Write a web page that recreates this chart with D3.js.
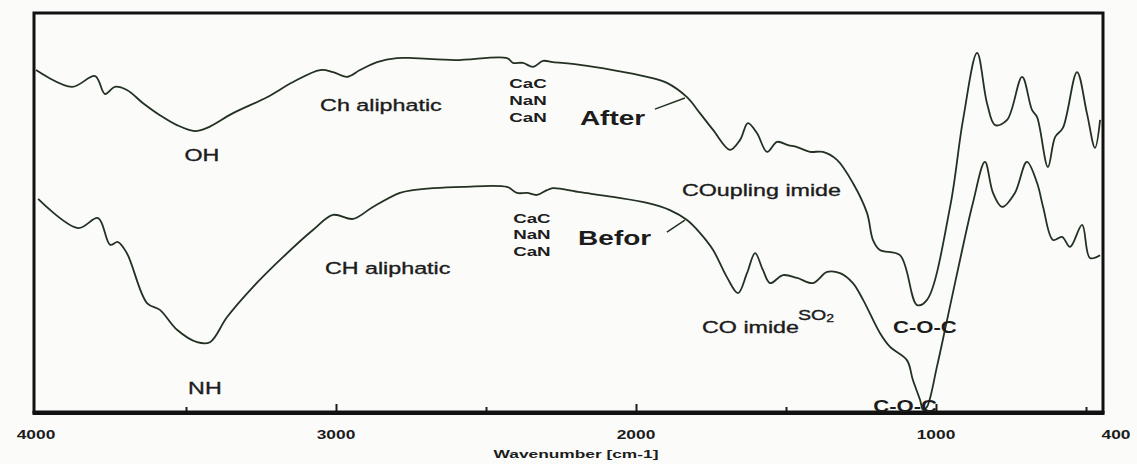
<!DOCTYPE html>
<html>
<head>
<meta charset="utf-8">
<script src="https://cdn.jsdelivr.net/npm/d3@7"></script>
<style>
  html, body { margin: 0; padding: 0; background: #fbfbfa; }
  svg { display: block; font-family: "Liberation Sans", Arial, sans-serif; }
</style>
</head>
<body>
<svg id="chart" width="1137" height="464"></svg>
<script>
// FTIR spectra of the polymer before and after coupling (transmittance, %)
const afterWavenumber = [4000, 3880, 3803, 3770, 3737, 3697, 3643, 3587, 3530, 3470, 3430, 3343, 3230, 3143, 3053, 3010, 2963, 2920, 2863, 2797, 2743, 2603, 2430, 2410, 2377, 2343, 2310, 2277, 2187, 2077, 1963, 1897, 1830, 1787, 1743, 1687, 1653, 1627, 1597, 1563, 1530, 1493, 1463, 1420, 1377, 1330, 1277, 1230, 1210, 1187, 1120, 1063, 1030, 953, 910, 863, 830, 803, 763, 713, 680, 663, 627, 603, 577, 530, 497, 470, 453];
const afterTransmittance = [85.7, 81.5, 84.2, 79.7, 81.5, 80.7, 77.4, 74.4, 71.9, 70.4, 71.2, 74.9, 78.9, 82.7, 85.7, 85.2, 84.0, 85.7, 87.7, 88.7, 88.7, 88.2, 88.7, 87.5, 87.5, 86.5, 88.0, 87.7, 87.0, 85.7, 84.0, 82.5, 78.9, 74.9, 70.7, 65.7, 68.2, 72.4, 69.9, 65.2, 67.7, 66.9, 66.4, 65.2, 65.2, 63.2, 57.4, 49.9, 43.1, 40.6, 39.3, 26.8, 28.1, 51.4, 73.2, 90.0, 77.4, 71.9, 73.2, 84.0, 75.7, 73.9, 61.4, 68.9, 71.2, 85.2, 74.9, 66.2, 73.2];

const beforeWavenumber = [3993, 3860, 3793, 3753, 3727, 3697, 3630, 3587, 3530, 3463, 3420, 3363, 3277, 3177, 3077, 3010, 2943, 2877, 2787, 2743, 2577, 2430, 2397, 2363, 2330, 2297, 2277, 2187, 2077, 1963, 1887, 1830, 1787, 1743, 1697, 1660, 1630, 1603, 1577, 1553, 1510, 1463, 1410, 1363, 1320, 1277, 1243, 1187, 1153, 1097, 1077, 1053, 1043, 1030, 997, 963, 920, 877, 837, 810, 780, 737, 697, 663, 643, 610, 580, 553, 513, 487, 453];
const beforeTransmittance = [53.4, 46.1, 48.6, 41.9, 42.6, 39.8, 27.3, 25.6, 20.6, 17.5, 17.5, 23.8, 31.3, 38.8, 45.6, 49.4, 48.4, 51.4, 54.9, 55.6, 56.4, 56.4, 54.9, 54.9, 54.4, 55.6, 56.1, 55.1, 53.9, 52.4, 50.6, 48.1, 44.9, 40.6, 33.8, 29.8, 34.8, 39.8, 35.6, 32.3, 34.3, 33.6, 32.3, 35.1, 34.8, 32.3, 28.1, 19.8, 16.3, 13.0, 8.0, 3.0, 0.5, 1.3, 11.3, 23.1, 38.1, 52.4, 62.7, 54.9, 51.4, 54.9, 62.7, 57.4, 51.4, 43.1, 43.9, 41.4, 46.9, 38.6, 39.3];

const labelledTicks = [4000, 3000, 2000, 1000, 400];
const majorTicks = [3000, 2000, 1000];
const minorTicks = [3500, 2500, 1500, 500];
const axisTitle = "Wavenumber [cm-1]";

const svg = d3.select("#chart");
const frame = { left: 34, right: 1103, top: 13, bottom: 412 };

const x = d3.scaleLinear().domain([4000, 400]).range([36, 1116]);
const y = d3.scaleLinear().domain([0, 100]).range([frame.bottom, frame.top]);

const ink = "#1c1c1c";
const lineInk = "#223122";

// plot area and clip
svg.append("defs").append("clipPath").attr("id", "plotClip")
  .append("rect")
  .attr("x", frame.left).attr("y", frame.top)
  .attr("width", frame.right - frame.left).attr("height", frame.bottom - frame.top);

// spectra
const line = d3.line()
  .x(d => x(d[0]))
  .y(d => y(d[1]))
  .curve(d3.curveCatmullRom.alpha(0.5));

const spectra = [
  d3.zip(afterWavenumber, afterTransmittance),
  d3.zip(beforeWavenumber, beforeTransmittance)
];

svg.append("g").attr("clip-path", "url(#plotClip)")
  .selectAll("path").data(spectra).join("path")
  .attr("d", line)
  .attr("fill", "none")
  .attr("stroke", lineInk)
  .attr("stroke-width", 1.8)
  .attr("stroke-linejoin", "round");

// ticks pointing into the plot
const tickG = svg.append("g").attr("transform", `translate(0,${frame.bottom})`);
tickG.append("g").call(d3.axisBottom(x).tickValues(majorTicks).tickSize(-8).tickFormat(""));
tickG.append("g").call(d3.axisBottom(x).tickValues(minorTicks).tickSize(-5).tickFormat(""));
tickG.selectAll(".domain").remove();
tickG.selectAll(".tick line").attr("stroke", ink).attr("stroke-width", 2);

// frame
svg.append("rect")
  .attr("x", frame.left).attr("y", frame.top)
  .attr("width", frame.right - frame.left).attr("height", frame.bottom - frame.top)
  .attr("fill", "none").attr("stroke", "#111").attr("stroke-width", 3);
svg.append("line")
  .attr("x1", frame.left - 1.5).attr("x2", frame.right + 1.5)
  .attr("y1", frame.bottom + 1).attr("y2", frame.bottom + 1)
  .attr("stroke", "#111").attr("stroke-width", 4);

// stretched text helper
function stretchedText(g, text, px, py, o = {}) {
  const t = g.append("text")
    .attr("transform", `translate(${px},${py}) scale(${o.sx || 1.37},1)`)
    .attr("text-anchor", o.anchor || "start")
    .attr("dominant-baseline", "central")
    .style("font-size", (o.size || 17) + "px")
    .style("font-weight", o.weight || "normal")
    .attr("fill", o.fill || ink)
    .text(text);
  if ((o.weight || "normal") === "normal") {
    t.attr("stroke", o.fill || ink).attr("stroke-width", 0.35);
  }
  return t;
}

// tick labels and axis title
const axisText = svg.append("g");
labelledTicks.forEach(v => {
  stretchedText(axisText, String(v), x(v), 435, { size: 12, weight: "bold", sx: 1.45, anchor: "middle" });
});
stretchedText(axisText, axisTitle, (x(4000) + x(400)) / 2, 454, { size: 10.5, weight: "bold", sx: 1.65, anchor: "middle" });

// band assignments
const notes = svg.append("g");
const at = (wn, t, text, o) => stretchedText(notes, text, x(wn), y(t), o);

at(3447, 64.4, "OH", { anchor: "middle" });
at(3437, 6.0, "NH", { anchor: "middle" });
at(3053, 76.9, "Ch aliphatic");
at(3037, 36.1, "CH aliphatic");

["CaC", "NaN", "CaN"].forEach((s, i) => {
  at(2360, [82.2, 77.9, 73.7][i], s, { anchor: "middle", size: 12.5, weight: "bold", sx: 1.5 });
  at(2347, [48.4, 44.4, 40.1][i], s, { anchor: "middle", size: 12.5, weight: "bold", sx: 1.5 });
});

at(2187, 73.7, "After", { size: 20, weight: "bold", sx: 1.4 });
at(2193, 43.6, "Befor", { size: 20, weight: "bold", sx: 1.4 });

// leader lines from the series names to the spectra
const leaders = [
  [[1937, 75.9], [1837, 78.7]],
  [[1897, 45.1], [1837, 48.1]]
];
notes.selectAll("line.leader").data(leaders).join("line")
  .attr("class", "leader")
  .attr("x1", d => x(d[0][0])).attr("y1", d => y(d[0][1]))
  .attr("x2", d => x(d[1][0])).attr("y2", d => y(d[1][1]))
  .attr("stroke", lineInk).attr("stroke-width", 1.5);

at(1847, 55.6, "COupling imide");
at(1780, 21.3, "CO imide");
const so2 = at(1460, 24.1, "SO", { size: 14, sx: 1.4 });
so2.append("tspan").attr("dy", 3).style("font-size", "10px").text("2");

at(1037, 21.3, "C-O-C", { anchor: "middle", weight: "bold", sx: 1.3 });
at(1103, 1.5, "C-O-C", { anchor: "middle", weight: "bold", sx: 1.3 });
</script>
</body>
</html>
